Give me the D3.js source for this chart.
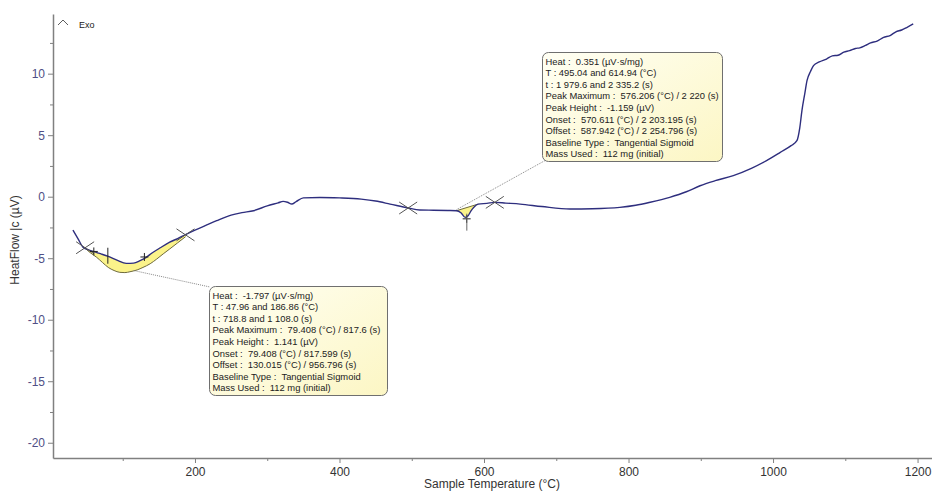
<!DOCTYPE html>
<html>
<head>
<meta charset="utf-8">
<script src="https://cdn.jsdelivr.net/npm/d3@7"></script>
<style>
  body { margin: 0; background: #fff; }
  text { font-family: "Liberation Sans", Arial, sans-serif; }
</style>
</head>
<body>
<div id="chart"></div>
<script>
// Heat flow curve (°C, µV)
var temps = [31, 38, 45, 52, 59, 70, 80, 92, 105, 115, 124, 132, 140, 152, 165, 176, 187, 200, 215, 230,
  250, 265, 281, 300, 315, 322, 328, 334, 340, 350, 373, 400, 430, 450, 470, 495, 511, 530, 550, 562,
  568, 574, 578, 582, 586, 592, 604, 615, 630, 650, 680, 719, 750, 788, 810, 830, 857, 880, 899, 920,
  945, 970, 991, 1010, 1025, 1033, 1037, 1040, 1044, 1047, 1052, 1056, 1064, 1074, 1082, 1090, 1098,
  1106, 1114, 1120, 1128, 1135, 1144, 1153, 1162, 1170, 1178, 1185, 1194];
var heatFlow = [-2.71, -3.4, -4.1, -4.3, -4.45, -4.65, -4.85, -5.15, -5.42, -5.4, -5.2, -4.95, -4.6, -4.15, -3.7, -3.4, -3.08, -2.72, -2.33, -1.95,
  -1.5, -1.3, -1.14, -0.75, -0.5, -0.38, -0.45, -0.59, -0.4, -0.1, -0.06, -0.1, -0.2, -0.35, -0.6, -0.92, -1.08, -1.1, -1.12, -1.14,
  -1.3, -1.68, -1.55, -1.15, -0.85, -0.6, -0.54, -0.46, -0.52, -0.6, -0.8, -1.0, -0.98, -0.87, -0.7, -0.45, -0.05, 0.4, 0.89, 1.3,
  1.71, 2.3, 2.93, 3.6, 4.15, 4.55, 5.6, 7.0, 8.4, 9.43, 10.2, 10.65, 10.95, 11.19, 11.45, 11.5, 11.75,
  11.87, 12.05, 12.1, 12.3, 12.5, 12.65, 12.95, 13.1, 13.4, 13.55, 13.75, 14.04];

// lower boundary of the first integrated peak
var peak1T = [48, 55, 64, 72, 80, 88, 96, 103, 110, 120, 128, 138, 147, 156, 165, 176, 187];
var peak1Low = [-4.2, -4.55, -4.93, -5.35, -5.75, -6.0, -6.15, -6.17, -6.1, -5.95, -5.75, -5.45, -5.07, -4.65, -4.25, -3.75, -3.25];

// second peak baseline ends
var peak2Base = [[562, -1.14], [592, -0.6]];

// limit markers (X) and characteristic markers (+)
var crossT = [47.96, 186.86, 495.04, 614.94];
var crossV = [-4.15, -3.1, -0.92, -0.46];
var plusT = [60, 130, 576];
var plusV = [-4.45, -4.9, -1.8];
var peakLineT = [79.4, 576.2];
var peakLineV = [[-4.15, -5.45], [-1.38, -2.76]];

var yTicks = [-20, -15, -10, -5, 0, 5, 10];
var yMinor = [-17.5, -12.5, -7.5, -2.5, 2.5, 7.5, 12.5];
var xTicks = [200, 400, 600, 800, 1000, 1200];
var xMinor = [100, 300, 500, 700, 900, 1100];

var box1Lines = [
  "Heat :  -1.797 (µV·s/mg)",
  "T : 47.96 and 186.86 (°C)",
  "t : 718.8 and 1 108.0 (s)",
  "Peak Maximum :  79.408 (°C) / 817.6 (s)",
  "Peak Height :  1.141 (µV)",
  "Onset :  79.408 (°C) / 817.599 (s)",
  "Offset :  130.015 (°C) / 956.796 (s)",
  "Baseline Type :  Tangential Sigmoid",
  "Mass Used :  112 mg (initial)"
];
var box2Lines = [
  "Heat :  0.351 (µV·s/mg)",
  "T : 495.04 and 614.94 (°C)",
  "t : 1 979.6 and 2 335.2 (s)",
  "Peak Maximum :  576.206 (°C) / 2 220 (s)",
  "Peak Height :  -1.159 (µV)",
  "Onset :  570.611 (°C) / 2 203.195 (s)",
  "Offset :  587.942 (°C) / 2 254.796 (s)",
  "Baseline Type :  Tangential Sigmoid",
  "Mass Used :  112 mg (initial)"
];

var svgWidth = 932;
var svgHeight = 491;
var plotLeft = 53, plotRight = 932, plotTop = 14, plotBottom = 458;

var svg = d3.select("#chart")
  .append("svg")
  .attr("width", svgWidth)
  .attr("height", svgHeight);

var x = d3.scaleLinear().domain([3.5, 1220]).range([plotLeft, plotRight]);
var y = d3.scaleLinear().domain([-21.24, 14.85]).range([plotBottom, plotTop]);

// axes
var axisColor = "#808080";
var yAxis = svg.append("g")
  .attr("transform", `translate(${plotLeft},0)`)
  .call(d3.axisLeft(y).tickValues(yTicks).tickSize(5).tickSizeOuter(0).tickPadding(3).tickFormat(d => String(d)));
yAxis.selectAll("text").attr("fill", "#4f4f86").style("font-size", "12px");
svg.append("g")
  .attr("transform", `translate(${plotLeft},0)`)
  .call(d3.axisLeft(y).tickValues(yMinor).tickSize(3).tickSizeOuter(0).tickFormat(""))
  .select(".domain").remove();

var xAxis = svg.append("g")
  .attr("transform", `translate(0,${plotBottom})`)
  .call(d3.axisBottom(x).tickValues(xTicks).tickSize(5).tickSizeOuter(0).tickPadding(4).tickFormat(d => String(d)));
xAxis.selectAll("text").attr("fill", "#333").style("font-size", "12px");
svg.append("g")
  .attr("transform", `translate(0,${plotBottom})`)
  .call(d3.axisBottom(x).tickValues(xMinor.filter(v => x(v) > plotLeft)).tickSize(3).tickSizeOuter(0).tickFormat(""))
  .select(".domain").remove();

svg.selectAll(".domain").attr("stroke", axisColor).attr("stroke-width", 1.5);
svg.selectAll(".tick line").attr("stroke", axisColor);

// axis titles
svg.append("text")
  .attr("transform", `translate(19, 240) rotate(-90)`)
  .attr("text-anchor", "middle")
  .attr("fill", "#333")
  .style("font-size", "12px")
  .text("HeatFlow |c (µV)");
svg.append("text")
  .attr("x", 492)
  .attr("y", 488)
  .attr("text-anchor", "middle")
  .attr("fill", "#333")
  .style("font-size", "12px")
  .text("Sample Temperature (°C)");

// Exo indicator
svg.append("path")
  .attr("d", "M58,25 L63,20 L68,25")
  .attr("fill", "none")
  .attr("stroke", "#333")
  .attr("stroke-width", 0.8);
svg.append("text")
  .attr("x", 79)
  .attr("y", 28)
  .attr("fill", "#222")
  .style("font-size", "9px")
  .text("Exo");

var curve = temps.map((t, i) => [t, heatFlow[i]]);

// yellow peak areas
var poly = d3.line().x(d => x(d[0])).y(d => y(d[1]));
var p1Low = peak1T.map((t, i) => [t, peak1Low[i]]);
var p1Up = curve.filter(d => d[0] >= 48 && d[0] <= 187).reverse();
svg.append("path")
  .attr("d", poly(p1Low.concat(p1Up)) + "Z")
  .attr("fill", "#fbf38a")
  .attr("stroke", "none");
var p2Curve = curve.filter(d => d[0] >= peak2Base[0][0] && d[0] <= peak2Base[1][0]);
svg.append("path")
  .attr("d", poly(p2Curve.concat([peak2Base[0]])) + "Z")
  .attr("fill", "#fbf38a")
  .attr("stroke", "none");

// peak baselines
svg.append("path")
  .attr("d", d3.line().x(d => x(d[0])).y(d => y(d[1])).curve(d3.curveMonotoneX)(p1Low))
  .attr("fill", "none")
  .attr("stroke", "#6e6a3a")
  .attr("stroke-width", 1);
svg.append("path")
  .attr("d", poly(peak2Base))
  .attr("fill", "none")
  .attr("stroke", "#6e6a3a")
  .attr("stroke-width", 1);

// leader lines to the result boxes
svg.append("line")
  .attr("x1", x(115)).attr("y1", y(-6.0))
  .attr("x2", 210).attr("y2", 287)
  .attr("stroke", "#7a7a7a").attr("stroke-width", 0.9).attr("stroke-dasharray", "1,1");
svg.append("line")
  .attr("x1", x(562)).attr("y1", y(-1.05))
  .attr("x2", 546).attr("y2", 160)
  .attr("stroke", "#7a7a7a").attr("stroke-width", 0.9).attr("stroke-dasharray", "1,1");

// main curve
svg.append("path")
  .datum(curve)
  .attr("d", d3.line().x(d => x(d[0])).y(d => y(d[1])).curve(d3.curveMonotoneX))
  .attr("fill", "none")
  .attr("stroke", "#2e2e7e")
  .attr("stroke-width", 1.4);

// markers
var crosses = svg.append("g").attr("stroke", "#555").attr("stroke-width", 1);
crossT.forEach(function (t, i) {
  var cx = x(t), cy = y(crossV[i]);
  crosses.append("line").attr("x1", cx - 9).attr("y1", cy - 6).attr("x2", cx + 9).attr("y2", cy + 6);
  crosses.append("line").attr("x1", cx - 9).attr("y1", cy + 6).attr("x2", cx + 9).attr("y2", cy - 6);
});
var pluses = svg.append("g").attr("stroke", "#222").attr("stroke-width", 1);
plusT.forEach(function (t, i) {
  var cx = x(t), cy = y(plusV[i]);
  pluses.append("line").attr("x1", cx - 4).attr("y1", cy).attr("x2", cx + 4).attr("y2", cy);
  pluses.append("line").attr("x1", cx).attr("y1", cy - 4).attr("x2", cx).attr("y2", cy + 4);
});
peakLineT.forEach(function (t, i) {
  pluses.append("line")
    .attr("x1", x(t)).attr("x2", x(t))
    .attr("y1", y(peakLineV[i][0])).attr("y2", y(peakLineV[i][1]))
    .attr("stroke", i === 0 ? "#222" : "#666");
});

// result boxes
var defs = svg.append("defs");
var grad = defs.append("linearGradient").attr("id", "boxFill").attr("x1", "0").attr("y1", "0").attr("x2", "1").attr("y2", "1");
grad.append("stop").attr("offset", "0%").attr("stop-color", "#fffff4");
grad.append("stop").attr("offset", "100%").attr("stop-color", "#fcf6c4");

function drawBox(bx, by, bw, bh, lines) {
  var g = svg.append("g").attr("transform", `translate(${bx},${by})`);
  g.append("rect")
    .attr("width", bw).attr("height", bh)
    .attr("rx", 6).attr("ry", 6)
    .attr("fill", "url(#boxFill)")
    .attr("stroke", "#6f6f6f")
    .attr("stroke-width", 1);
  g.selectAll("text")
    .data(lines)
    .enter()
    .append("text")
    .attr("x", 3)
    .attr("y", (d, i) => 12 + i * 11.6)
    .attr("fill", "#222")
    .style("font-size", "9.4px")
    .style("white-space", "pre")
    .text(d => d);
}
drawBox(209.5, 286.5, 178, 109, box1Lines);
drawBox(542.5, 52.5, 180, 109, box2Lines);
</script>
</body>
</html>
